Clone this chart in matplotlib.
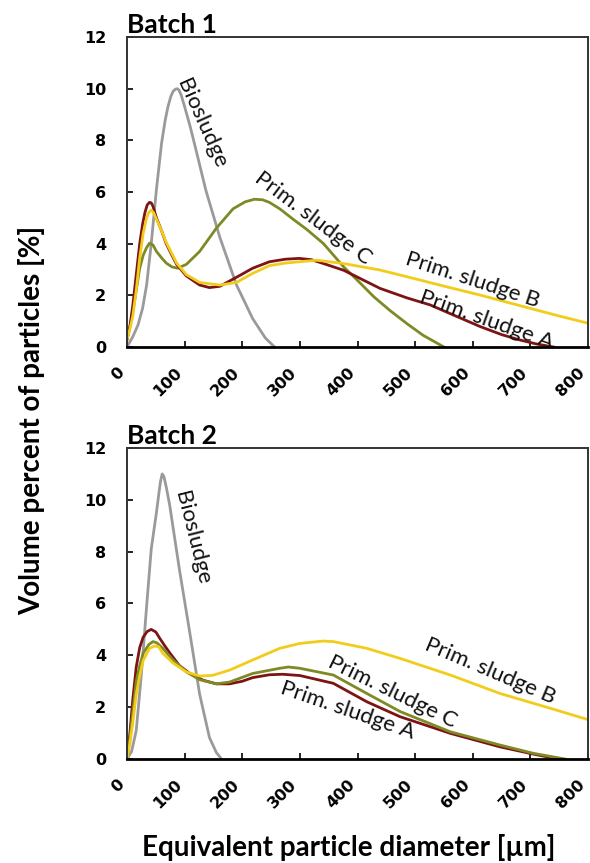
import matplotlib
matplotlib.use("Agg")
import matplotlib.pyplot as plt

# Batch 1 readings (diameter in um, volume percent)
bio1_x = [0, 10, 19, 27, 34, 42, 51, 60, 66, 71, 76, 80, 84, 87, 90, 94, 100, 110, 120, 137, 161, 190, 218, 240, 256]
bio1_y = [0, 0.4, 0.85, 1.5, 2.4, 4.0, 6.1, 7.9, 8.75, 9.3, 9.7, 9.9, 9.98, 10.0, 9.95, 9.75, 9.3, 8.5, 7.6, 6.05, 4.25, 2.4, 1.1, 0.35, 0]

a1_x = [0, 5, 10, 16, 22, 27, 31, 35, 39, 42, 45, 51, 60, 68, 78, 86, 103, 126, 143, 161, 190, 218, 247, 275, 299, 320, 341, 376, 439, 486, 526, 560, 613, 650, 682, 710, 740]
a1_y = [0.3, 0.8, 1.6, 2.8, 4.0, 4.75, 5.2, 5.5, 5.6, 5.58, 5.45, 5.0, 4.5, 4.0, 3.55, 3.2, 2.75, 2.4, 2.3, 2.35, 2.7, 3.05, 3.3, 3.4, 3.43, 3.38, 3.23, 2.97, 2.27, 1.9, 1.63, 1.3, 0.79, 0.48, 0.27, 0.12, 0]

b1_x = [0, 5, 10, 16, 22, 28, 34, 38, 42, 46, 51, 60, 68, 86, 103, 126, 143, 161, 190, 218, 247, 275, 299, 329, 376, 439, 500, 560, 613, 660, 699, 750, 800]
b1_y = [0.3, 0.7, 1.2, 2.2, 3.45, 4.4, 5.0, 5.22, 5.3, 5.2, 4.95, 4.5, 4.05, 3.25, 2.8, 2.5, 2.45, 2.4, 2.5, 2.85, 3.15, 3.25, 3.3, 3.36, 3.23, 2.98, 2.64, 2.3, 2.01, 1.73, 1.5, 1.2, 0.92]

c1_x = [0, 5, 10, 16, 22, 28, 34, 39, 45, 51, 60, 68, 78, 88, 103, 126, 155, 184, 205, 221, 235, 247, 265, 288, 312, 341, 376, 399, 428, 457, 486, 514, 550]
c1_y = [0.3, 0.8, 1.35, 2.2, 3.05, 3.55, 3.85, 4.02, 3.95, 3.7, 3.45, 3.25, 3.1, 3.05, 3.2, 3.7, 4.6, 5.35, 5.62, 5.72, 5.7, 5.6, 5.35, 4.95, 4.55, 4.0, 3.1, 2.6, 1.95, 1.4, 0.9, 0.45, 0]

# Batch 2 readings
bio2_x = [0, 8, 16, 25, 34, 42, 51, 55, 58, 61, 64, 68, 74, 91, 109, 126, 143, 155, 164]
bio2_y = [0, 0.3, 1.1, 3.3, 5.9, 8.1, 9.5, 10.2, 10.7, 11.0, 10.9, 10.5, 9.8, 7.3, 4.86, 2.5, 0.83, 0.25, 0]

a2_x = [0, 5, 10, 16, 22, 28, 35, 42, 50, 57, 66, 74, 91, 109, 132, 155, 178, 200, 218, 247, 270, 300, 358, 416, 474, 561, 647, 705, 748]
a2_y = [0, 1.0, 2.3, 3.55, 4.3, 4.7, 4.92, 5.0, 4.9, 4.65, 4.35, 4.1, 3.6, 3.3, 3.04, 2.9, 2.9, 3.0, 3.14, 3.25, 3.27, 3.22, 2.92, 2.21, 1.63, 0.99, 0.47, 0.19, 0]

b2_x = [0, 5, 10, 16, 22, 28, 39, 48, 55, 62, 80, 103, 126, 149, 178, 218, 265, 300, 340, 358, 416, 474, 561, 647, 734, 800]
b2_y = [0, 0.6, 1.4, 2.5, 3.2, 3.8, 4.27, 4.36, 4.33, 4.08, 3.7, 3.36, 3.2, 3.23, 3.43, 3.82, 4.27, 4.46, 4.55, 4.53, 4.27, 3.88, 3.24, 2.53, 1.96, 1.52]

c2_x = [0, 5, 10, 16, 22, 28, 38, 45, 52, 62, 80, 103, 126, 155, 178, 218, 265, 280, 300, 358, 416, 474, 561, 647, 705, 760]
c2_y = [0, 0.8, 1.8, 3.0, 3.6, 4.08, 4.42, 4.53, 4.48, 4.27, 3.82, 3.36, 3.06, 2.9, 2.97, 3.3, 3.5, 3.55, 3.5, 3.24, 2.53, 1.83, 1.05, 0.54, 0.22, 0]

x_ticks = [0, 100, 200, 300, 400, 500, 600, 700, 800]
y_ticks = [0, 2, 4, 6, 8, 10, 12]

GRAY = "#9a9a9a"
RED = "#7d1414"
YELLOW = "#f2cc1a"
OLIVE = "#7f8a24"

fig = plt.figure(figsize=(5.9, 8.63), dpi=100)
ax1 = fig.add_axes([0.2153, 0.5979, 0.7814, 0.3592])
ax2 = fig.add_axes([0.2153, 0.1205, 0.7814, 0.3604])


def style(ax, title):
    ax.set_xlim(0, 800)
    ax.set_ylim(0, 12)
    ax.set_xticks(x_ticks)
    ax.set_yticks(y_ticks)
    ax.set_xticklabels([str(t) for t in x_ticks], rotation=45, ha="right",
                       fontsize=11.5, fontweight="bold", family="DejaVu Sans")
    ax.set_yticklabels([str(t) for t in y_ticks], fontsize=11.5,
                       fontweight="bold", family="DejaVu Sans")
    ax.tick_params(axis="x", direction="in", length=4, width=1.2, pad=13)
    ax.tick_params(axis="y", direction="in", length=4, width=1.2, pad=15)
    for s in ["top", "right", "left"]:
        ax.spines[s].set_color("#333333")
        ax.spines[s].set_linewidth(1.4)
    ax.spines["bottom"].set_color("black")
    ax.spines["bottom"].set_linewidth(2)
    ax.set_title(title, loc="left", pad=3, fontsize=19, fontweight="bold",
                 family="Lato")


lw = 2.0
ax1.plot(bio1_x, bio1_y, color=GRAY, lw=lw, solid_joinstyle="round")
ax1.plot(c1_x, c1_y, color=OLIVE, lw=lw, solid_joinstyle="round")
ax1.plot(a1_x, a1_y, color=RED, lw=lw, solid_joinstyle="round")
ax1.plot(b1_x, b1_y, color=YELLOW, lw=lw, solid_joinstyle="round")
style(ax1, "Batch 1")

lab = dict(fontsize=16, family="Lato", ha="center", va="center", color="#111111")
ax1.text(130, 8.64, "Biosludge", rotation=-66, **lab)
ax1.text(322, 4.98, "Prim. sludge C", rotation=-37, **lab)
ax1.text(600, 2.61, "Prim. sludge B", rotation=-18, **lab)
ax1.text(624, 1.06, "Prim. sludge A", rotation=-19.5, **lab)

ax2.plot(bio2_x, bio2_y, color=GRAY, lw=lw, solid_joinstyle="round")
ax2.plot(a2_x, a2_y, color=RED, lw=lw, solid_joinstyle="round")
ax2.plot(c2_x, c2_y, color=OLIVE, lw=lw, solid_joinstyle="round")
ax2.plot(b2_x, b2_y, color=YELLOW, lw=lw, solid_joinstyle="round")
style(ax2, "Batch 2")

ax2.text(114, 8.52, "Biosludge", rotation=-76, **lab)
ax2.text(631, 3.41, "Prim. sludge B", rotation=-23, **lab)
ax2.text(461, 2.6, "Prim. sludge C", rotation=-26, **lab)
ax2.text(383, 1.87, "Prim. sludge A", rotation=-19, **lab)

fig.text(0.054, 0.513, "Volume percent of particles [%]", rotation=90,
         ha="center", va="center", fontsize=20, fontweight="bold", family="Lato")
fig.text(0.591, 0.0185, "Equivalent particle diameter [\u00b5m]",
         ha="center", va="center", fontsize=20, fontweight="bold", family="Lato")

fig.savefig("out.png", dpi=100)
